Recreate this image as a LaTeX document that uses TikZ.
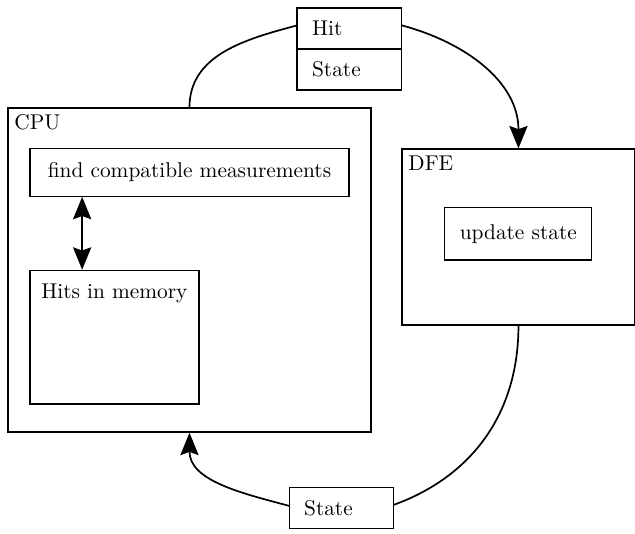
\documentclass[tikz,border=0pt]{standalone}
\usepackage{tikz}
\usetikzlibrary{arrows.meta, positioning}

\begin{document}
\begin{tikzpicture}[>={Stealth[length=10.5pt,width=8.5pt,inset=1.5pt]},semithick,
		box/.style={draw, rectangle, inner sep=0pt},
		cell/.style={draw, rectangle, text width=1.23cm, inner xsep=7pt, inner ysep=0pt,
			outer sep=0pt, minimum height=0.675cm, align=left},
		corner/.style={anchor=north west, inner sep=3pt},
		flow/.style={thick}]
			\useasboundingbox (0,0) rectangle (10.446,-8.784);
			% host side
			\node[box, minimum width=5.97cm, minimum height=5.33cm,
				label={[corner]north west:CPU}] (cpu) at (3.117,-4.442) {};
			\node[box, minimum width=5.25cm, minimum height=0.79cm,
				below=0.66cm of cpu.north] (find) {find compatible measurements};
			\node[box, minimum width=2.78cm, minimum height=2.2cm,
				below=1.2cm of find.south west, anchor=north west,
				label={[anchor=north, yshift=-3pt]north:Hits in memory}] (mem) {};
			% accelerator side
			\node[box, minimum width=3.83cm, minimum height=2.895cm,
				label={[corner]north west:DFE}] (dfe) at (8.529,-3.899) {};
			\node[box, minimum width=2.42cm, minimum height=0.86cm] (upd) at (8.526,-3.849) {update state};
			% data in transit
			\node[cell            ] (hit)      at (5.749,-0.47) {Hit};
			\node[cell, below=0pt of hit] (hitstate) {State};
			\node[cell            ] (state)    at (5.618,-8.357) {State};
			\coordinate (link) at ([xshift=0.87cm]find.south west);
			\draw[<->, thick] (link) -- (link |- mem.north);
			\draw[flow]     (cpu.north)  to[out=90,  in=195] ([yshift=1.5pt]hit.west);
			\draw[flow, ->] ([yshift=1.5pt]hit.east) to[out=-15, in=90] (dfe.north);
			\draw[flow]     (dfe.south)  to[out=-90, in=20]  ([yshift=1.5pt]state.east);
			\draw[flow, ->] ([yshift=1pt]state.west) to[out=165, in=-90] (cpu.south);
		\end{tikzpicture}
\end{document}
